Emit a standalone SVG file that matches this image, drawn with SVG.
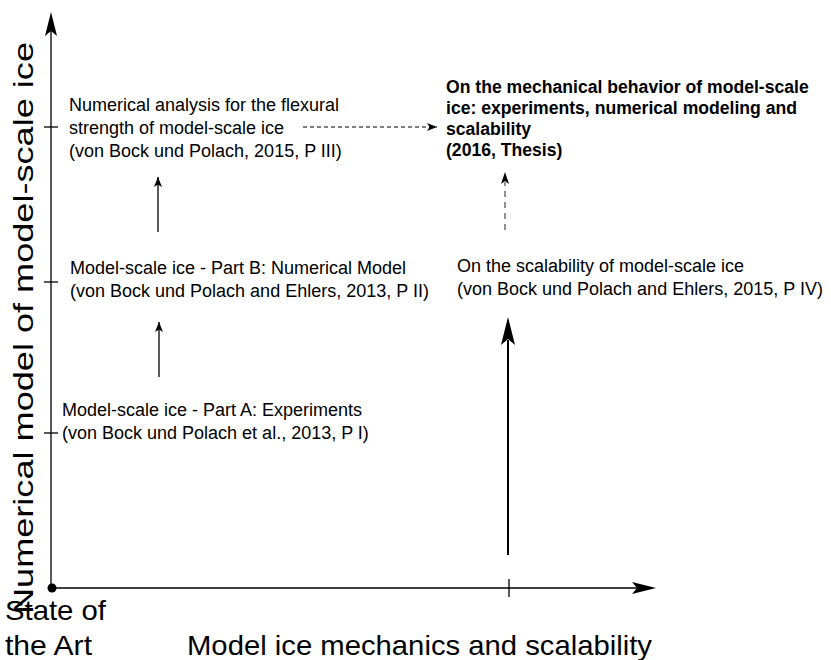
<svg xmlns="http://www.w3.org/2000/svg" width="831" height="660" viewBox="0 0 831 660">
<defs>
<style>
.t{font-family:"Liberation Sans",Arial,sans-serif;font-size:18px;fill:#000}
.b{font-family:"Liberation Sans",Arial,sans-serif;font-size:17.6px;font-weight:bold;fill:#000}
.ax{font-family:"Liberation Sans",Arial,sans-serif;font-size:28px;fill:#000}
.ln{stroke:#000;stroke-width:1.3;fill:none}
.dash{stroke:#000;stroke-width:1;stroke-dasharray:4 3;fill:none}
.gdash{stroke:#777;stroke-width:1.6;stroke-dasharray:6 5;fill:none}
</style>
<marker id="ah" viewBox="0 0 10 8" refX="10" refY="4" markerWidth="10" markerHeight="8" markerUnits="userSpaceOnUse" orient="auto">
<path d="M0,0 L10,4 L0,8 L2.5,4 Z" fill="#000"/>
</marker>
</defs>
<rect width="831" height="660" fill="#fff"/>
<g id="axes">
<line class="ln" x1="51" y1="588" x2="51" y2="28"/>
<path d="M51,12 L57,36 L51,31 L45,36 Z" fill="#000"/>
<line class="ln" x1="51" y1="588" x2="640" y2="588"/>
<path d="M656,588 L632,582 L637,588 L632,594 Z" fill="#000"/>
<circle cx="52" cy="588" r="4.5" fill="#000"/>
<line class="ln" x1="44" y1="127" x2="58" y2="127"/>
<line class="ln" x1="44" y1="282" x2="58" y2="282"/>
<line class="ln" x1="44" y1="433" x2="58" y2="433"/>
<line class="ln" x1="509" y1="579" x2="509" y2="597"/>
<text class="ax" transform="translate(33,328) rotate(-90)" text-anchor="middle" textLength="572" lengthAdjust="spacingAndGlyphs">Numerical model of model-scale ice</text>
<text class="ax" x="187" y="655" textLength="465" lengthAdjust="spacingAndGlyphs">Model ice mechanics and scalability</text>
<text class="ax" x="5" y="620" textLength="101" lengthAdjust="spacingAndGlyphs">State of</text>
<text class="ax" x="5" y="655" textLength="87" lengthAdjust="spacingAndGlyphs">the Art</text>
</g>
<g id="p3">
<text class="t" x="69" y="111">Numerical analysis for the flexural</text>
<text class="t" x="69" y="134">strength of model-scale ice</text>
<text class="t" x="69" y="157">(von Bock und Polach, 2015, P III)</text>
</g>
<g id="p2">
<text class="t" x="70" y="274">Model-scale ice - Part B: Numerical Model</text>
<text class="t" x="70" y="297">(von Bock und Polach and Ehlers, 2013, P II)</text>
</g>
<g id="p1">
<text class="t" x="62" y="416">Model-scale ice - Part A: Experiments</text>
<text class="t" x="62" y="439">(von Bock und Polach et al., 2013, P I)</text>
</g>
<g id="p4">
<text class="t" x="457" y="272">On the scalability of model-scale ice</text>
<text class="t" x="457" y="295">(von Bock und Polach and Ehlers, 2015, P IV)</text>
</g>
<g id="thesis">
<text class="b" x="446" y="93">On the mechanical behavior of model-scale</text>
<text class="b" x="446" y="114">ice: experiments, numerical modeling and</text>
<text class="b" x="446" y="135">scalability</text>
<text class="b" x="446" y="156">(2016, Thesis)</text>
</g>
<g id="connectors">
<line class="dash" x1="303" y1="127" x2="437" y2="127" marker-end="url(#ah)"/>
<line class="ln" x1="158" y1="232" x2="158" y2="177" marker-end="url(#ah)"/>
<line class="ln" x1="159" y1="377" x2="159" y2="322" marker-end="url(#ah)"/>
<line class="gdash" x1="505" y1="230" x2="505" y2="182"/>
<path d="M505,172 L509,184 L505,181 L501,184 Z" fill="#000"/>
<line stroke="#000" stroke-width="2" x1="508" y1="555" x2="508" y2="340"/>
<path d="M508,317 L515,345 L508,339 L501,345 Z" fill="#000"/>
</g>
</svg>
